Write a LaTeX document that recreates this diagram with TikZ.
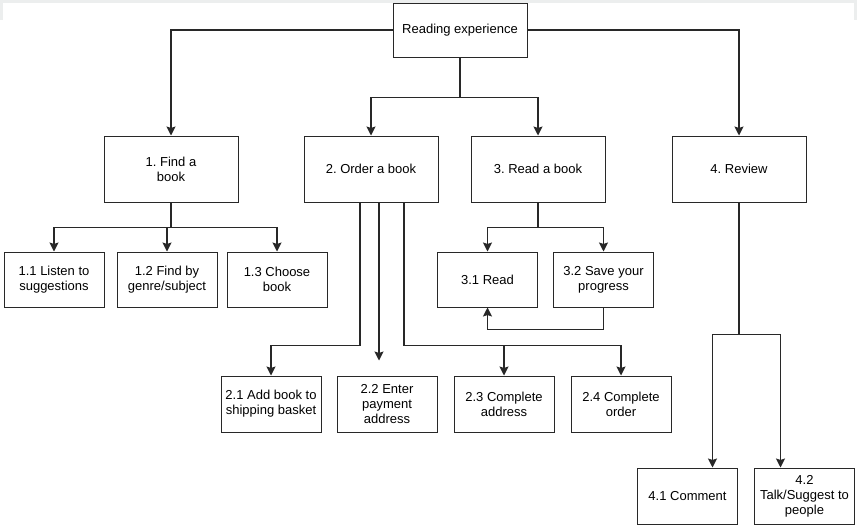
\documentclass[tikz,border=0pt]{standalone}
\usepackage{fontspec}
\setmainfont{Liberation Sans}
\usepackage{tikz}
\usetikzlibrary{
    arrows.meta,
    positioning,
    calc
}
\definecolor{LineGray}{RGB}{40,40,40}
\definecolor{EdgeGray}{RGB}{236,238,238}
\tikzset{
  block/.style   = {draw=LineGray, line width=1pt, minimum width=134pt,
                    minimum height=66pt, align=center, inner sep=2pt,
                    font=\fontsize{13}{15}\selectfont},
  sblock/.style  = {draw=LineGray, line width=1pt, minimum width=100pt,
                    minimum height=55pt, align=center, inner sep=1pt,
                    font=\fontsize{13}{15}\selectfont},
  arr/.style     = {-{Stealth[length=9pt,width=9pt,inset=1.5pt]}, LineGray, line width=1.1pt},
  lin/.style     = {LineGray, line width=1.1pt}
}
\frenchspacing

\begin{document}
\begin{tikzpicture}[x=1pt,y=1pt]
\useasboundingbox (0,0) rectangle (857,-525);
\fill[EdgeGray] (0,0) rectangle (857,-2.5);
\fill[EdgeGray] (0,0) rectangle (3,-20);
\fill[EdgeGray] (854,0) rectangle (857,-20);

\node[block,minimum height=54pt] (root) at (460,-30) {Reading experience};
\node[block] (o1) at (171,-169) {1. Find a\\book};
\node[block,right=65pt of o1] (o2) {2. Order a book};
\node[block,right=32pt of o2] (o3) {3. Read a book};
\node[block,right=66pt of o3] (o4) {4. Review};

\node[sblock] (f1) at (54,-279.5) {1.1 Listen to\\suggestions};
\node[sblock,right=12pt of f1] (f2) {1.2 Find by\\genre/subject};
\node[sblock,right=9pt of f2] (f3) {1.3 Choose\\book};

\node[sblock] (r1) at (487.5,-279.5) {3.1 Read};
\node[sblock,right=15pt of r1] (r2) {3.2 Save your\\progress};

\node[sblock,minimum height=56pt] (p1) at (271,-404) {2.1 Add book to\\shipping basket};
\node[sblock,minimum height=56pt,right=15pt of p1] (p2) {2.2 Enter\\payment\\address};
\node[sblock,minimum height=56pt,right=16pt of p2] (p3) {2.3 Complete\\address};
\node[sblock,minimum height=56pt,right=16pt of p3] (p4) {2.4 Complete\\order};

\node[sblock,minimum height=56pt] (v1) at (687.5,-496) {4.1 Comment};
\node[sblock,minimum height=56pt,right=16pt of v1] (v2) {4.2\\Talk/Suggest to\\people};

% top level
\draw[arr] (root.west) -| (o1.north);
\draw[arr] (root.east) -| (o4.north);
\coordinate (rj) at ($(root.south)+(0,-40)$);
\draw[lin] (root.south) -- (rj);
\draw[arr] (rj) -| (o2.north);
\draw[arr] (rj) -| (o3.north);

% find a book
\coordinate (fj) at ($(o1.south)+(0,-25)$);
\draw[lin] (o1.south) -- (fj);
\foreach \n in {f1,f2,f3}
  \draw[arr] (fj) -| (\n.north);

% read a book
\coordinate (tj) at ($(o3.south)+(0,-25)$);
\draw[lin] (o3.south) -- (tj);
\draw[arr] (tj) -| (r1.north);
\draw[arr] (tj) -| (r2.north);
\draw[arr] (r2.south) -- ++(0,-22) -| (r1.south);

% order a book
\coordinate (pa) at ($(o2.south)+(-11,0)$);
\coordinate (pb) at ($(o2.south)+(8,0)$);
\coordinate (pc) at ($(o2.south)+(33,0)$);
\coordinate (pj) at ($(p1.north)+(0,30)$);
\coordinate (pend) at ($(p2.north)+(-8,15)$);
\draw[arr] (pa) |- (pj) -- (p1.north);
\draw[arr] (pb) -- (pend);
\draw[arr] (pc) |- (pj -| p4.north) -- (p4.north);
\draw[arr] (pj -| p3.north) -- (p3.north);

% review
\coordinate (vj) at ($(o4.south)+(0,-132)$);
\draw[lin] (o4.south) -- (vj);
\draw[arr] (vj) -| ($(v1.north)+(25,0)$);
\draw[arr] (vj) -| ($(v2.north)+(-24,0)$);
\end{tikzpicture}
\end{document}
